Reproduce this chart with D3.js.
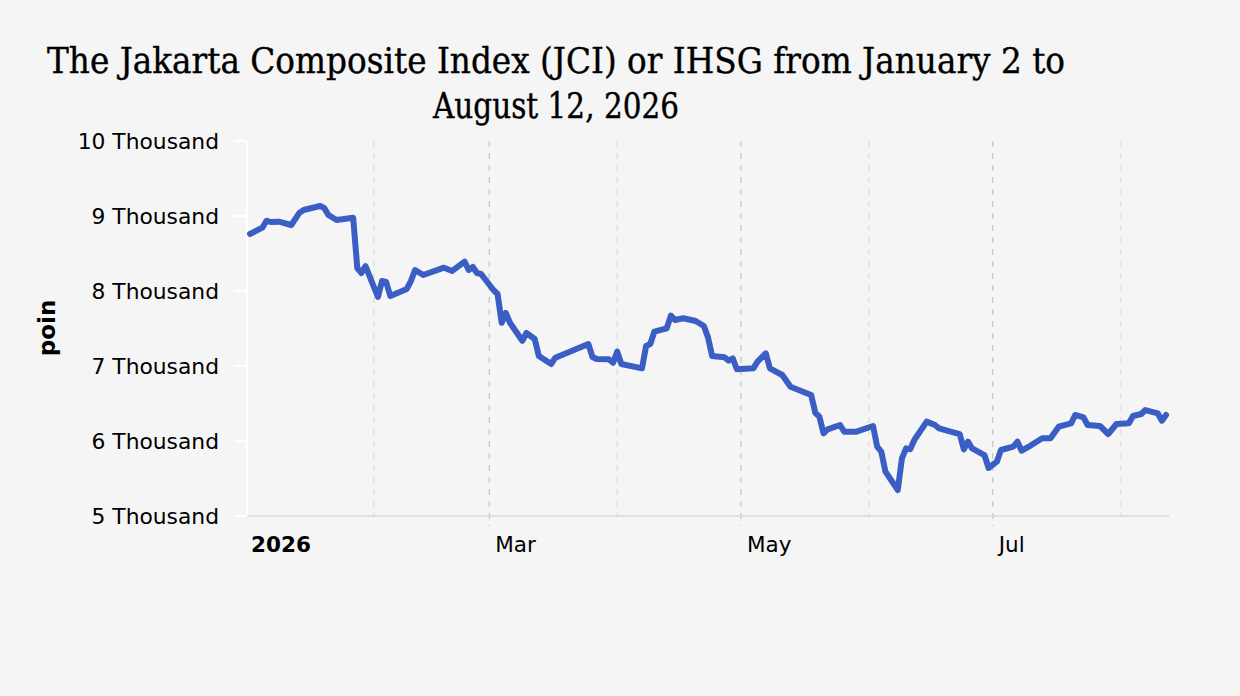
<!DOCTYPE html>
<html>
<head>
<meta charset="utf-8">
<script src="https://cdn.jsdelivr.net/npm/d3@7"></script>
<style>
  body { margin: 0; background: #f5f5f5; }
  svg { display: block; }
</style>
</head>
<body>
<div id="chart"></div>
<script>
// JCI closing values (trading days, 2026)
const dates = [
  "2026-01-02","2026-01-05","2026-01-06","2026-01-07","2026-01-09","2026-01-12","2026-01-14","2026-01-15",
  "2026-01-19","2026-01-20","2026-01-21","2026-01-23","2026-01-27","2026-01-28","2026-01-29","2026-01-30",
  "2026-02-02","2026-02-03","2026-02-04","2026-02-05","2026-02-09","2026-02-10","2026-02-11","2026-02-13",
  "2026-02-18","2026-02-20","2026-02-23","2026-02-24","2026-02-25","2026-02-26","2026-02-27","2026-03-02",
  "2026-03-03","2026-03-04","2026-03-05","2026-03-06","2026-03-09","2026-03-10","2026-03-12","2026-03-13",
  "2026-03-16","2026-03-17","2026-03-25","2026-03-26","2026-03-27","2026-03-30","2026-03-31","2026-04-01",
  "2026-04-02","2026-04-07","2026-04-08","2026-04-09","2026-04-10","2026-04-13","2026-04-14","2026-04-15",
  "2026-04-17","2026-04-20","2026-04-22","2026-04-23","2026-04-24","2026-04-27","2026-04-28","2026-04-29",
  "2026-04-30","2026-05-04","2026-05-05","2026-05-07","2026-05-08","2026-05-11","2026-05-13","2026-05-18",
  "2026-05-19","2026-05-20","2026-05-21","2026-05-22","2026-05-25","2026-05-26","2026-05-29","2026-06-02",
  "2026-06-03","2026-06-04","2026-06-05","2026-06-08","2026-06-09","2026-06-10","2026-06-11","2026-06-12",
  "2026-06-15","2026-06-17","2026-06-18","2026-06-23","2026-06-24","2026-06-25","2026-06-26","2026-06-29",
  "2026-06-30","2026-07-02","2026-07-03","2026-07-06","2026-07-07","2026-07-08","2026-07-10","2026-07-13",
  "2026-07-15","2026-07-17","2026-07-20","2026-07-21","2026-07-23","2026-07-24","2026-07-27","2026-07-29",
  "2026-07-31","2026-08-03","2026-08-04","2026-08-06","2026-08-07","2026-08-10","2026-08-11","2026-08-12"
]
const values = [
  8760, 8844, 8937, 8920, 8924, 8880, 9044, 9080,
  9133, 9107, 9013, 8947, 8977, 8307, 8240, 8333,
  7920, 8133, 8120, 7933, 8027, 8133, 8280, 8213,
  8311, 8267, 8391, 8280, 8320, 8240, 8227, 8013,
  7960, 7577, 7707, 7577, 7337, 7440, 7360, 7133,
  7027, 7111, 7293, 7120, 7093, 7089, 7044, 7191,
  7027, 6969, 7267, 7293, 7457, 7502, 7671, 7613,
  7636, 7600, 7533, 7382, 7133, 7116, 7071, 7102,
  6956, 6969, 7058, 7169, 6969, 6880, 6724, 6613,
  6377, 6324, 6102, 6156, 6213, 6124, 6124, 6200,
  5924, 5858, 5591, 5347, 5769, 5902, 5889, 6013,
  6258, 6213, 6169, 6093, 5889, 5991, 5902, 5813,
  5640, 5724, 5880, 5924, 5991, 5871, 5933, 6036,
  6036, 6191, 6236, 6347, 6316, 6213, 6200, 6093,
  6227, 6236, 6333, 6360, 6413, 6369, 6271, 6347
]
const yTicks = [5000, 6000, 7000, 8000, 9000, 10000]
const yTickLabels = ["5 Thousand", "6 Thousand", "7 Thousand", "8 Thousand", "9 Thousand", "10 Thousand"]
const majorMonths = ["2026-01-01", "2026-03-01", "2026-05-01", "2026-07-01"]
const majorLabels = ["2026", "Mar", "May", "Jul"]
const minorMonths = ["2026-02-01", "2026-04-01", "2026-06-01", "2026-08-01"]
const titleLines = ["The Jakarta Composite Index (JCI) or IHSG from January 2 to", "August 12, 2026"]
const yTitle = "poin"

var width = 1240;
var height = 696;
var parse = d3.utcParse("%Y-%m-%d");
var data = dates.map((d, i) => ({ date: parse(d), value: values[i] }));

var svg = d3.select("#chart").append("svg")
  .attr("width", width)
  .attr("height", height)

svg.append("rect")
  .attr("width", "100%")
  .attr("height", "100%")
  .attr("fill", "#f5f5f5");

var plot = { left: 247, right: 1169, top: 141, bottom: 516 };

var x = d3.scaleUtc()
  .domain(d3.extent(data, d => d.date))
  .range([250, 1166])

var y = d3.scaleLinear()
  .domain([5000, 10000])
  .range([plot.bottom, plot.top])

// title
svg.append("g")
  .selectAll("text")
  .data(titleLines)
  .enter()
  .append("text")
  .attr("x", 556)
  .attr("y", (d, i) => 73 + i * 45)
  .attr("text-anchor", "middle")
  .attr("font-family", "DejaVu Serif")
  .style("font-size", "35px")
  .attr("fill", "#000")
  .attr("stroke", "#000")
  .attr("stroke-width", 0.4)
  .attr("textLength", (d, i) => i === 0 ? 1018 : 246)
  .attr("lengthAdjust", "spacingAndGlyphs")
  .text(d => d)

// vertical grid lines
svg.append("g")
  .selectAll("line")
  .data(minorMonths.map(parse))
  .enter()
  .append("line")
  .attr("x1", d => x(d))
  .attr("x2", d => x(d))
  .attr("y1", plot.top)
  .attr("y2", plot.bottom)
  .attr("stroke", "#e0e0e0")
  .attr("stroke-width", 1.5)
  .attr("stroke-dasharray", "6,6")

svg.append("g")
  .selectAll("line")
  .data(majorMonths.slice(1).map(parse))
  .enter()
  .append("line")
  .attr("x1", d => x(d))
  .attr("x2", d => x(d))
  .attr("y1", plot.top)
  .attr("y2", plot.bottom + 10)
  .attr("stroke", "#cccccc")
  .attr("stroke-width", 1.5)
  .attr("stroke-dasharray", "6,6")

// x axis line
svg.append("line")
  .attr("x1", plot.left)
  .attr("x2", plot.right)
  .attr("y1", plot.bottom)
  .attr("y2", plot.bottom)
  .attr("stroke", "#d9d9d9")
  .attr("stroke-width", 1.5)

// x tick labels
svg.append("g")
  .selectAll("text")
  .data(majorMonths)
  .enter()
  .append("text")
  .attr("x", (d, i) => i === 0 ? 251 : x(parse(d)) + 6)
  .attr("y", 552)
  .attr("font-family", "DejaVu Sans")
  .style("font-size", "21.5px")
  .style("font-weight", (d, i) => i === 0 ? "bold" : "normal")
  .attr("fill", "#000")
  .text((d, i) => majorLabels[i])

// y axis
var yAxis = svg.append("g")
svg.append("line")
  .attr("x1", plot.left)
  .attr("x2", plot.left)
  .attr("y1", plot.top)
  .attr("y2", plot.bottom)
  .attr("stroke", "#ffffff")
  .attr("stroke-width", 2)
yAxis.selectAll("line")
  .data(yTicks)
  .enter()
  .append("line")
  .attr("x1", plot.left - 13)
  .attr("x2", plot.left)
  .attr("y1", d => y(d))
  .attr("y2", d => y(d))
  .attr("stroke", "#ffffff")
  .attr("stroke-width", 2)
yAxis.selectAll("text")
  .data(yTicks)
  .enter()
  .append("text")
  .attr("x", 219)
  .attr("y", d => y(d))
  .attr("dy", "0.36em")
  .attr("text-anchor", "end")
  .attr("font-family", "DejaVu Sans")
  .style("font-size", "21.8px")
  .attr("fill", "#000")
  .text((d, i) => yTickLabels[i])

svg.append("text")
  .attr("transform", "translate(55,328) rotate(-90)")
  .attr("text-anchor", "middle")
  .attr("font-family", "DejaVu Sans")
  .style("font-size", "23px")
  .style("font-weight", "bold")
  .attr("fill", "#000")
  .text(yTitle)

// the index line
var line = d3.line()
  .x(d => x(d.date))
  .y(d => y(d.value))

svg.append("path")
  .datum(data)
  .attr("d", line)
  .attr("fill", "none")
  .attr("stroke", "#3a5ec3")
  .attr("stroke-width", 6)
  .attr("stroke-linejoin", "round")
  .attr("stroke-linecap", "round")
</script>
</body>
</html>
